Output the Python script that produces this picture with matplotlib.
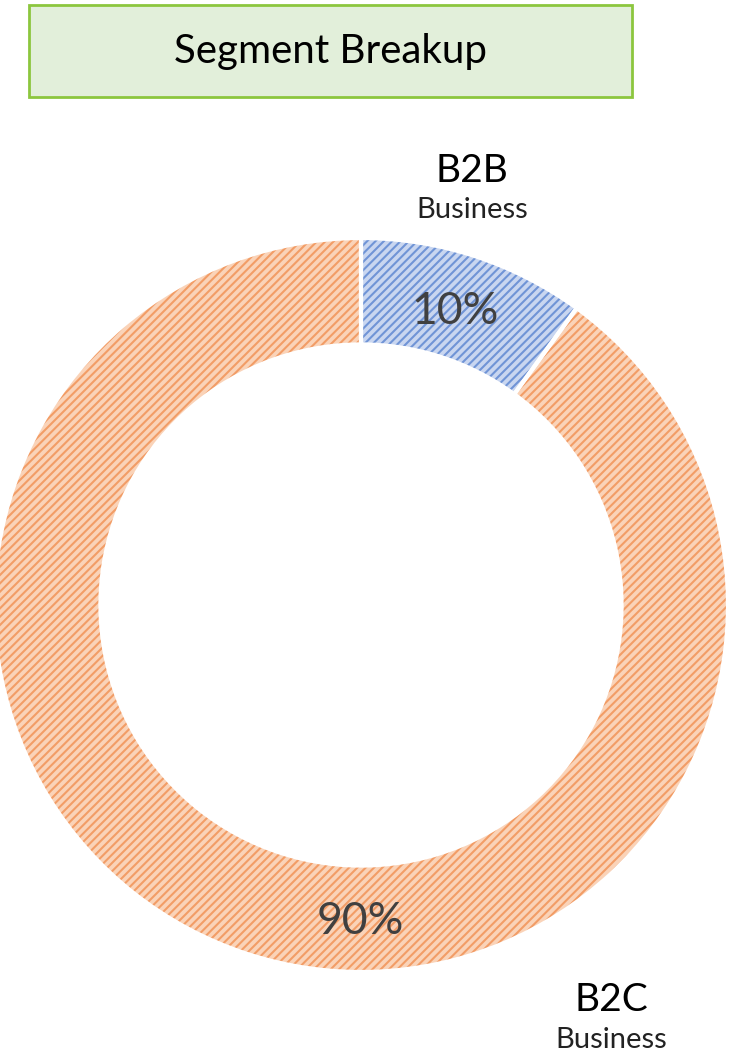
import matplotlib
matplotlib.use("Agg")
import matplotlib.pyplot as plt
from matplotlib.patches import Rectangle

plt.rcParams["font.family"] = ["Lato", "DejaVu Sans"]
plt.rcParams["hatch.linewidth"] = 1.5

# data
segments = ["B2B", "B2C"]
shares = [10, 90]
face_colors = ["#c9d6f0", "#fad3b8"]
hatch_colors = ["#7094d6", "#f29d66"]

fig = plt.figure(figsize=(7.31, 10.57), dpi=100)
ax = fig.add_axes([0, 0, 1, 1])

center = (361, 452)
R = 367
width = 0.29

# hatched fill (hatch colour comes from edgecolor, line itself hidden)
wedges, _ = ax.pie(shares, colors=face_colors, startangle=90, counterclock=False,
                   center=center, radius=R, frame=True,
                   wedgeprops=dict(width=R * width, linewidth=0))
for w, hc in zip(wedges, hatch_colors):
    w.set_hatch("////")
    w.set_edgecolor(hc)

# white separators
ax.pie(shares, colors=["none", "none"], startangle=90, counterclock=False,
       center=center, radius=R, frame=True,
       wedgeprops=dict(width=R * width, edgecolor="white", linewidth=3, fill=False))
ax.set_xlim(0, 731)
ax.set_ylim(0, 1057)
ax.set_aspect("equal")
ax.axis("off")

# percentage labels
ax.text(455, 1057 - 312, f"{shares[0]}%", fontsize=32, color="#404040",
        ha="center", va="center")
ax.text(360, 1057 - 922, f"{shares[1]}%", fontsize=32, color="#404040",
        ha="center", va="center")

# category labels
ax.text(472, 1057 - 171, segments[0], fontsize=28, color="black",
        ha="center", va="center")
ax.text(472, 1057 - 210, "Business", fontsize=21, color="#222222",
        ha="center", va="center")
ax.text(611, 1057 - 1000, segments[1], fontsize=28, color="black",
        ha="center", va="center")
ax.text(611, 1057 - 1040, "Business", fontsize=21, color="#222222",
        ha="center", va="center")

# title box
ax.add_patch(Rectangle((29, 1057 - 97), 603, 92, facecolor="#e2efda",
                       edgecolor="#8cc63e", linewidth=2))
ax.text(331, 1057 - 52, "Segment Breakup", fontsize=29, color="black",
        ha="center", va="center")

fig.savefig("out.png", dpi=100)
